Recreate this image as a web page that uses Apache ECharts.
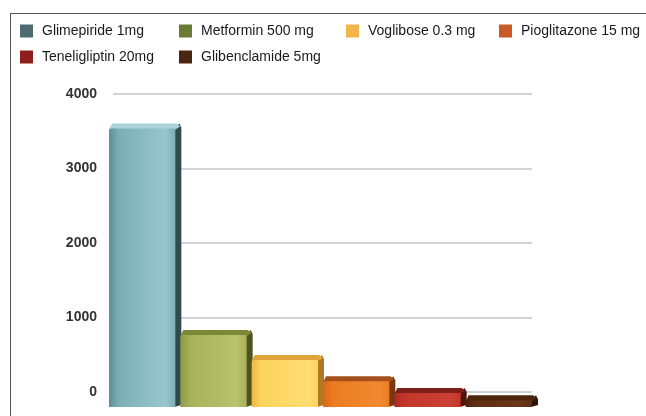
<!DOCTYPE html>
<html>
<head>
<meta charset="utf-8">
<script src="https://cdn.jsdelivr.net/npm/echarts@6/dist/echarts.min.js"></script>
<style>
  html, body { margin: 0; padding: 0; background: #fff; }
  #chart { width: 646px; height: 416px; position: absolute; left: 0; top: 0; }
  #frame { position: absolute; left: 10px; top: 13px; width: 646px; height: 420px;
           border-left: 1px solid #555; border-top: 1px solid #555; pointer-events: none; }
</style>
</head>
<body>
<div id="chart"></div>
<div id="frame"></div>
<script>
// ---- data ----
const categories = ['Glimepiride 1mg', 'Metformin 500 mg', 'Voglibose 0.3 mg',
                    'Pioglitazone 15 mg', 'Teneligliptin 20mg', 'Glibenclamide 5mg'];
const values = [3560, 920, 600, 330, 180, 85];
const tickValues = [0, 1000, 2000, 3000, 4000];

// ---- styles ----
const legendColors = ['#4d6b70', '#6b7a35', '#f3b64c', '#c85a25', '#8e1f1d', '#4a2612'];
const frontColors = [
  ['#5f8d94', '#7eaeb5', '#97c7cd'],
  ['#8e9a45', '#a7b259', '#b9c26c'],
  ['#f0b840', '#fdd35e', '#ffdd72'],
  ['#d8681a', '#ec7b21', '#f08a30'],
  ['#a82a22', '#c3372b', '#cc4033'],
  ['#4a220c', '#5e2e12', '#6a3618']
];
const topColors = ['#a9d3d8', '#7c8737', '#e0a23a', '#a4501c', '#7c2019', '#4d250d'];
const sideColors = ['#2f4b50', '#4d5420', '#b07820', '#7a3610', '#4f120e', '#2e1406'];
const legendPos = [[20, 24], [179, 24], [346, 24], [499, 24], [20, 50], [179, 50]];

const depth = 6, topH = 5;

function renderBar(params, api) {
  const i = api.value(0);
  const v = api.value(1);
  const top = api.coord([i, v]);
  const base = api.coord([i, 0]);
  const sw = api.size([1, 0])[0];
  const slotStart = top[0] - sw / 2;
  const x0 = slotStart + 1;
  const x1 = slotStart + sw - 4;
  const yT = top[1];
  const yB = base[1];
  const fc = frontColors[i];
  return {
    type: 'group',
    children: [
      { // side face
        type: 'polygon',
        shape: { points: [[x1 - 1, yT], [x1 + depth - 2, yT - topH], [x1 + depth, yT - topH + 4], [x1 + depth, yB - 2], [x1 - 1, yB]] },
        style: { fill: sideColors[i] }
      },
      { // top face
        type: 'polygon',
        shape: { points: [[x0, yT + 1], [x0 + 3, yT - topH], [x1 + depth - 5, yT - topH], [x1 + depth - 1, yT - topH + 3], [x1, yT + 1]] },
        style: { fill: topColors[i] }
      },
      { // front face
        type: 'rect',
        shape: { x: x0, y: yT, width: x1 - x0, height: yB - yT, r: [2, 0, 0, 0] },
        style: { fill: new echarts.graphic.LinearGradient(0, 0, 1, 0, [
          { offset: 0, color: fc[0] }, { offset: 0.15, color: fc[1] },
          { offset: 0.85, color: fc[2] }, { offset: 1, color: fc[1] }]) }
      }
    ]
  };
}

const series = categories.map((name, i) => ({
  name: name,
  type: 'custom',
  xAxisIndex: 1,
  yAxisIndex: 1,
  coordinateSystem: 'cartesian2d',
  itemStyle: { color: legendColors[i] },
  encode: { x: 0, y: 1 },
  data: [[i, values[i]]],
  renderItem: renderBar,
  z: 2 + i
}));

const legends = categories.map((name, i) => ({
  data: [name],
  left: legendPos[i][0],
  top: legendPos[i][1],
  padding: 0,
  icon: 'rect',
  itemWidth: 13,
  itemHeight: 13,
  selectedMode: false,
  textStyle: { fontSize: 14, color: '#1a1a1a', fontFamily: 'Liberation Sans, Arial, sans-serif', padding: [0, 0, 0, 4] }
}));

const chart = echarts.init(document.getElementById('chart'), null, { renderer: 'canvas' });
chart.setOption({
  animation: false,
  backgroundColor: '#fff',
  legend: legends,
  grid: [
    { left: 113, right: 114, top: 94, bottom: 24 },
    { left: 108, right: 110, top: 94, bottom: 9 }
  ],
  xAxis: [
    { gridIndex: 0, type: 'category', data: categories, show: false },
    { gridIndex: 1, type: 'category', data: categories, show: false, boundaryGap: true }
  ],
  yAxis: [
    { gridIndex: 0, type: 'value', min: tickValues[0], max: tickValues[tickValues.length - 1], interval: 1000,
      axisLine: { show: false }, axisTick: { show: false },
      axisLabel: { fontSize: 14, fontWeight: 'bold', color: '#333', margin: 16,
                   fontFamily: 'Liberation Sans, Arial, sans-serif',
                   formatter: (val) => String(val) },
      splitLine: { lineStyle: { color: '#c4c4c4', width: 1.5 } } },
    { gridIndex: 1, type: 'value', min: 0, max: 4000, show: false, splitLine: { show: false } }
  ],
  series: series
});
</script>
</body>
</html>
